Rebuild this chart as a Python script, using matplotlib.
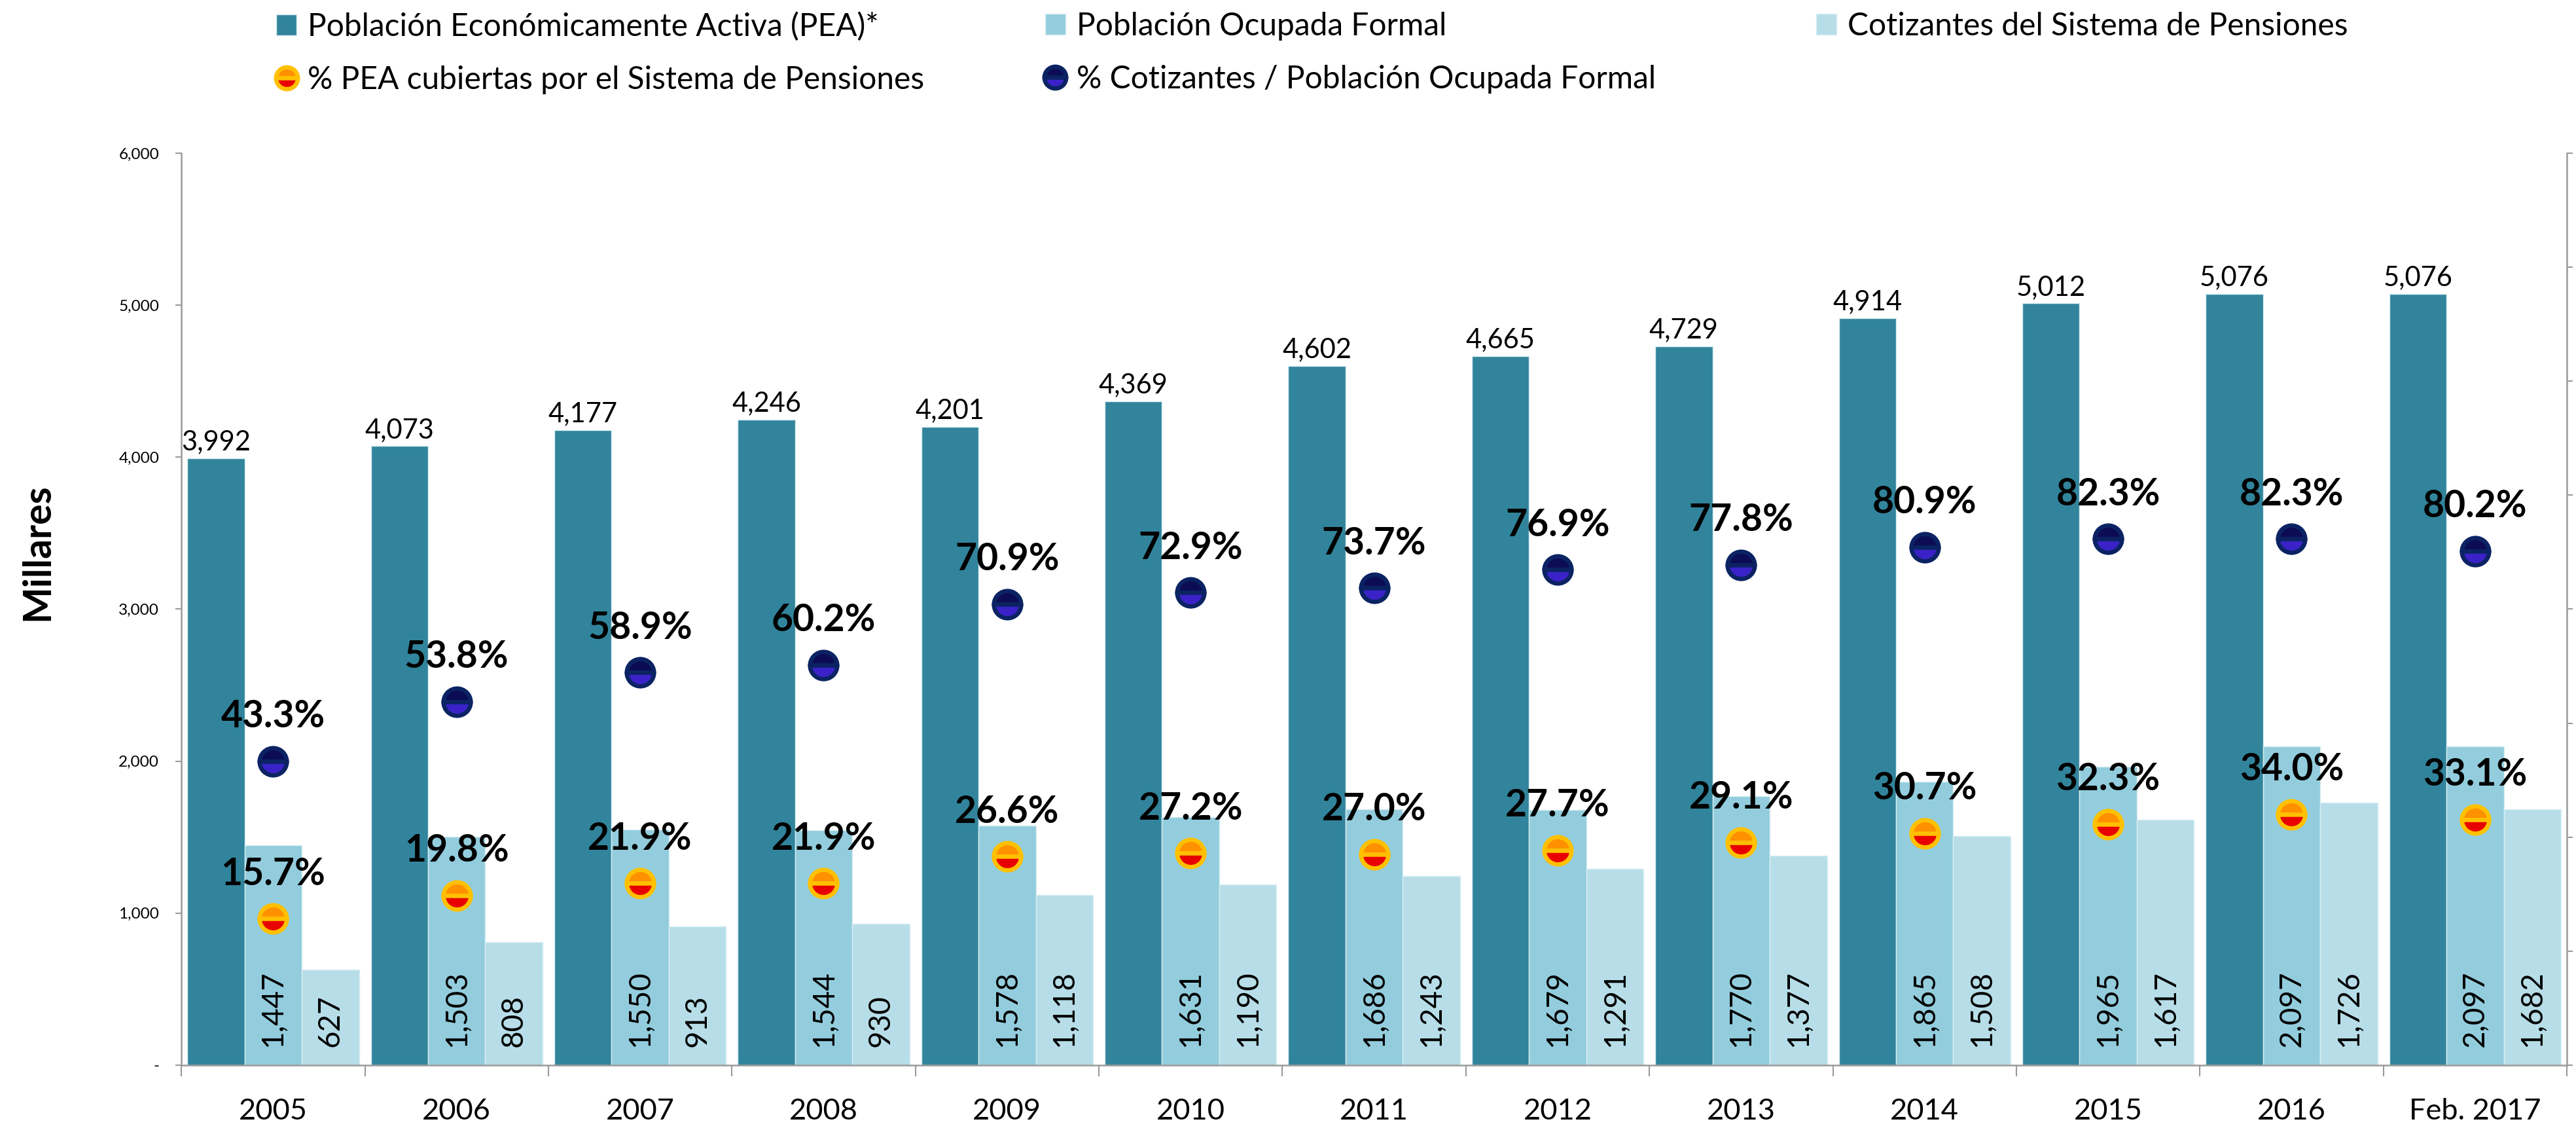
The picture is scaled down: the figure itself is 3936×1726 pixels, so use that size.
import numpy as np
import matplotlib.pyplot as plt

categories = ['2005', '2006', '2007', '2008', '2009', '2010', '2011', '2012',
              '2013', '2014', '2015', '2016', 'Feb. 2017']
pea = [3992, 4073, 4177, 4246, 4201, 4369, 4602, 4665, 4729, 4914, 5012, 5076, 5076]
ocupada = [1447, 1503, 1550, 1544, 1578, 1631, 1686, 1679, 1770, 1865, 1965, 2097, 2097]
cotizantes = [627, 808, 913, 930, 1118, 1190, 1243, 1291, 1377, 1508, 1617, 1726, 1682]
pct_pea = [15.7, 19.8, 21.9, 21.9, 26.6, 27.2, 27.0, 27.7, 29.1, 30.7, 32.3, 34.0, 33.1]
pct_cot = [43.3, 53.8, 58.9, 60.2, 70.9, 72.9, 73.7, 76.9, 77.8, 80.9, 82.3, 82.3, 80.2]

plt.rcParams['font.family'] = ['Lato', 'DejaVu Sans']
gray = '#9A9A9A'

fig = plt.figure(figsize=(39.37, 17.26), dpi=100)
ax = fig.add_axes([0.0704, 0.0574, 0.9258, 0.807])

x = np.arange(len(categories))
w = 0.312
b1 = ax.bar(x - w, pea, w, color='#31849B', edgecolor='#D9EEF3', linewidth=1,
            label='Población Económicamente Activa (PEA)*')
b2 = ax.bar(x, ocupada, w, color='#93CDDD', edgecolor='#D9EEF3', linewidth=1,
            label='Población Ocupada Formal')
b3 = ax.bar(x + w, cotizantes, w, color='#B7DEE8', edgecolor='#D9EEF3', linewidth=1,
            label='Cotizantes del Sistema de Pensiones')

# etiquetas de valores
for xi, v in zip(x, pea):
    ax.annotate(f'{v:,}', (xi - w, v), xytext=(0, 4), textcoords='offset points',
                ha='center', va='bottom', fontsize=30)
for xi, v in zip(x, ocupada):
    ax.annotate(f'{v:,}', (xi, 0), xytext=(0, 20), textcoords='offset points',
                ha='center', va='bottom', rotation=90, fontsize=33)
for xi, v in zip(x, cotizantes):
    ax.annotate(f'{v:,}', (xi + w, 0), xytext=(0, 20), textcoords='offset points',
                ha='center', va='bottom', rotation=90, fontsize=33)

ax.set_xlim(-0.5, 12.5)
ax.set_ylim(0, 6000)
ax.set_yticks(range(0, 7000, 1000))
ax.set_yticklabels(['-' if v == 0 else f'{v:,}' for v in range(0, 7000, 1000)])
ax.tick_params(axis='y', length=6.5, width=1.5, color=gray, pad=18, labelsize=17.5)
ax.set_xticks(np.arange(-0.5, 13, 1))
ax.set_xticklabels([''] * 14)
ax.set_xticks(x, minor=True)
ax.set_xticklabels(categories, minor=True)
ax.tick_params(axis='x', which='major', length=12, width=1.5, color=gray)
ax.tick_params(axis='x', which='minor', length=0, pad=36, labelsize=32.5)
ax.set_ylabel('Millares', fontsize=42.5, fontweight='bold')
ax.yaxis.set_label_coords(-0.053, 0.563)

for s in ['left', 'bottom']:
    ax.spines[s].set_color(gray)
    ax.spines[s].set_linewidth(1.8)
ax.spines['top'].set_visible(False)
ax.spines['right'].set_visible(False)

# eje secundario para porcentajes
ax2 = ax.twinx()
ax2.set_ylim(-10, 150)
ax2.set_yticks(np.arange(-10, 151, 20))
ax2.set_yticklabels([''] * 9)
ax2.tick_params(axis='y', length=6.5, width=1.5, color=gray)
for s in ['top', 'left', 'bottom']:
    ax2.spines[s].set_visible(False)
ax2.spines['right'].set_color(gray)
ax2.spines['right'].set_linewidth(1.8)

l1, = ax2.plot(x, pct_pea, 'o', linestyle='none', markersize=30, fillstyle='top',
               markerfacecolor='#FF9000', markerfacecoloralt='#E80000',
               markeredgecolor='#FFC000', markeredgewidth=4.7,
               label='% PEA cubiertas por el Sistema de Pensiones')
l2, = ax2.plot(x, pct_cot, 'o', linestyle='none', markersize=30, fillstyle='top',
               markerfacecolor='#0C0C55', markerfacecoloralt='#3A22C8',
               markeredgecolor='#0B2363', markeredgewidth=4.7,
               label='% Cotizantes / Población Ocupada Formal')

for xi, v in zip(x, pct_pea):
    ax2.annotate(f'{v:.1f}%', (xi, v), xytext=(0, 49), textcoords='offset points',
                 ha='center', va='center', fontsize=41, fontweight='bold')
for xi, v in zip(x, pct_cot):
    ax2.annotate(f'{v:.1f}%', (xi, v), xytext=(0, 49), textcoords='offset points',
                 ha='center', va='center', fontsize=41, fontweight='bold')

# leyenda en tres columnas de igual ancho
legend_cols = [([b1, l1], 0.1072), ([b2, l2], 0.4056), ([b3], 0.7048)]
for handles, x0 in legend_cols:
    fig.legend(handles=handles, loc='upper left', bbox_to_anchor=(x0, 0.9896),
               frameon=False, fontsize=34.5, borderpad=0, borderaxespad=0,
               handlelength=0.65, handleheight=0.65, handletextpad=0.35,
               labelspacing=0.77, markerscale=0.8)

fig.savefig('out.png', dpi=100)
